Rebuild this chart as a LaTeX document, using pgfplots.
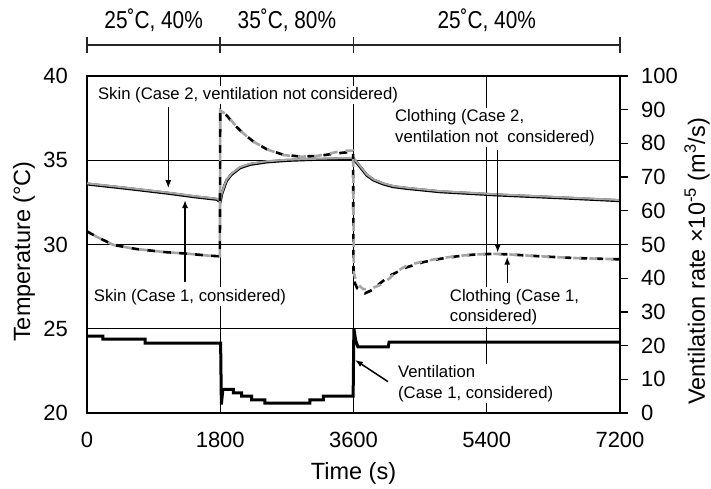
\documentclass[border=0pt]{standalone}
\usepackage{pgfplots}
\pgfplotsset{compat=1.18}
\usepackage{graphicx}
\usepackage{fontspec}
\setmainfont{Liberation Sans}
\usetikzlibrary{arrows.meta}
\definecolor{lgray}{RGB}{165,165,165}
\newcommand{\tickfont}{\fontsize{22bp}{26bp}\selectfont}
\newcommand{\labfont}{\fontsize{23.5bp}{28bp}\selectfont}
\newcommand{\annfont}{\fontsize{16.7bp}{20.5bp}\selectfont}
\begin{document}
\begin{tikzpicture}
\begin{axis}[name=main, scale only axis, width=533bp, height=337bp,
  xmin=0, xmax=7200, ymin=20, ymax=40, clip=false,
  xtick={0,1800,3600,5400,7200}, ytick={20,25,30,35,40},
  grid=major, grid style={black, line width=0.7bp},
  major tick length=0pt,
  axis line style={black, line width=1.3bp},
  tick label style={font=\tickfont},
  /pgf/number format/assume math mode=true,
  /pgf/number format/1000 sep={},
  xticklabel style={anchor=north, inner sep=0pt, yshift=-19bp},
  yticklabel style={anchor=east, inner sep=0pt, xshift=-19bp},
  xlabel={Time (s)}, ylabel={Temperature (°C)},
  every axis x label/.style={at={(axis description cs:0.5,-0.178)}, anchor=center, font=\labfont},
  every axis y label/.style={at={(axis description cs:-0.118,0.479)}, anchor=center, rotate=90, font=\labfont},
]
% Skin, Case 1 (considered)
\addplot[black, line width=3bp] coordinates {
(0,33.59) (536,33.33) (1098,33.04) (1436,32.84) (1752,32.68) (1800,32.55)
(1820,33.0) (1860,33.5) (1887,33.8) (1950,34.15) (2067,34.55) (2200,34.75)
(2427,34.9) (2700,34.99) (3000,35.04) (3300,35.07) (3598,35.1)
(3688,34.62) (3778,34.12) (3868,33.83) (4003,33.59) (4138,33.43) (4318,33.33)
(4768,33.13) (5534,32.94) (6345,32.78) (7200,32.6)};
% Skin, Case 2 (not considered)
\addplot[lgray, line width=2bp] coordinates {
(0,33.63) (536,33.37) (1098,33.08) (1436,32.88) (1752,32.72) (1800,32.6)
(1820,33.05) (1860,33.55) (1887,33.84) (1950,34.19) (2067,34.59) (2200,34.79)
(2427,34.94) (2700,35.03) (3000,35.08) (3300,35.11) (3598,35.14)
(3688,34.66) (3778,34.16) (3868,33.87) (4003,33.63) (4138,33.47) (4318,33.37)
(4768,33.17) (5534,32.98) (6345,32.82) (7200,32.64)};
% Clothing, Case 1 (considered)
\addplot[black, line width=2.6bp, dash pattern=on 8bp off 8bp] coordinates {
(0,30.78) (130,30.46) (360,29.97) (670,29.73) (1050,29.55) (1370,29.45)
(1640,29.34) (1795,29.3) (1800,37.9) (1890,37.65) (1980,37.15) (2110,36.6)
(2250,36.1) (2430,35.65) (2650,35.33) (2880,35.22) (3100,35.25) (3330,35.38)
(3460,35.45) (3595,35.5) (3600,27.9) (3650,27.4) (3755,27.1) (3850,27.3)
(3960,27.7) (4090,28.15) (4320,28.65) (4540,28.95) (4770,29.15) (5000,29.3)
(5220,29.4) (5450,29.44) (5670,29.42) (6120,29.3) (6570,29.2) (7200,29.12)};
% Clothing, Case 2 (not considered)
\addplot[lgray, line width=2.6bp, dash pattern=on 8bp off 8bp, dash phase=8bp] coordinates {
(0,30.78) (130,30.46) (360,29.97) (670,29.73) (1050,29.55) (1370,29.45)
(1640,29.34) (1795,29.3) (1800,37.95) (1890,37.69) (1980,37.19) (2110,36.6)
(2250,36.1) (2430,35.65) (2650,35.31) (2880,35.21) (3100,35.25) (3330,35.45)
(3460,35.57) (3595,35.57) (3605,28.3) (3645,27.7) (3730,27.35) (3820,27.35)
(3960,27.6) (4090,28.0) (4180,28.4) (4320,28.75) (4540,29.0) (4770,29.18)
(5000,29.32) (5220,29.4) (5450,29.45) (5670,29.42) (6120,29.3) (6570,29.2) (7200,29.12)};
% annotations
\node[fill=white, inner sep=1.5bp, font=\annfont] at (axis cs:2175,38.87) {Skin (Case 2, ventilation not considered)};
\draw[line width=1.5bp, -{Latex[length=8bp,width=6bp]}] (axis cs:1098,38.18) -- (axis cs:1098,33.34);
\node[fill=white, inner sep=1.5bp, font=\annfont] at (axis cs:1391,26.9) {Skin (Case 1, considered)};
\draw[line width=1.5bp, -{Latex[length=8bp,width=6bp]}] (axis cs:1324,27.77) -- (axis cs:1324,32.64);
\node[fill=white, inner sep=1.5bp, font=\annfont, align=left, anchor=west] at (axis cs:4140,36.94) {Clothing (Case 2,\\ventilation not\ \ considered)};
\draw[line width=1.5bp, -{Latex[length=8bp,width=6bp]}] (axis cs:5548,35.61) -- (axis cs:5548,29.51);
\node[fill=white, inner sep=1.5bp, font=\annfont, align=left, anchor=west] at (axis cs:4880,26.29) {Clothing (Case 1,\\considered)};
\draw[line width=1.5bp, -{Latex[length=8bp,width=6bp]}] (axis cs:5677,27.72) -- (axis cs:5677,29.28);
\node[fill=white, inner sep=1.5bp, font=\annfont, align=left, anchor=west] at (axis cs:4180,21.75) {Ventilation\\(Case 1, considered)};
\draw[line width=1.5bp, -{Latex[length=8bp,width=6bp]}] (axis cs:4066,21.86) -- (axis cs:3620,23.15);
% top condition bracket
\draw[line width=1.8bp, black!85] (axis cs:0,41.84) -- (axis cs:7200,41.84);
\draw[line width=1.8bp, black!85] (axis cs:0,41.365) -- (axis cs:0,42.31);
\draw[line width=1.8bp, black!85] (axis cs:1800,41.365) -- (axis cs:1800,42.31);
\draw[line width=1.8bp, black!85] (axis cs:3600,41.365) -- (axis cs:3600,42.31);
\draw[line width=1.8bp, black!85] (axis cs:7200,41.365) -- (axis cs:7200,42.31);
\node[font=\fontsize{24.5bp}{28bp}\selectfont] at (axis cs:900,43.32) {\scalebox{0.85}[1]{25˚C, 40\%}};
\node[font=\fontsize{24.5bp}{28bp}\selectfont] at (axis cs:2700,43.32) {\scalebox{0.85}[1]{35˚C, 80\%}};
\node[font=\fontsize{24.5bp}{28bp}\selectfont] at (axis cs:5400,43.32) {\scalebox{0.85}[1]{25˚C, 40\%}};
\end{axis}
\begin{axis}[scale only axis, width=533bp, height=337bp,
  xmin=0, xmax=7200, ymin=0, ymax=100, clip=false,
  axis x line=none, axis y line*=right,
  ytick={0,10,...,100}, tick align=outside, major tick length=8bp,
  tick style={black, line width=1.3bp},
  axis line style={black, line width=1.6bp},
  tick label style={font=\tickfont},
  /pgf/number format/assume math mode=true,
  yticklabel style={anchor=west, inner sep=0pt, xshift=13bp},
  ylabel={Ventilation rate ×10\textsuperscript{-5} (m\textsuperscript{3}/s)},
  every axis y label/.style={at={(axis description cs:1.1445,0.45)}, anchor=center, rotate=90, font=\labfont},
]
\addplot[black, line width=3bp] coordinates {
(0,22.8) (216,22.8) (216,21.9) (784,21.9) (784,20.7) (1805,20.7) (1815,2.5)
(1835,7.0) (1976,7.0) (1976,6.0) (2089,6.0) (2089,5.0) (2224,5.0) (2224,3.9)
(2404,3.9) (2404,2.9) (3012,2.9) (3012,3.9) (3192,3.9) (3192,5.0) (3595,5.0)
(3605,25.1) (3630,21.5) (3660,19.6) (4070,19.6) (4080,21.0) (7200,21.0)};
\end{axis}
\pgfresetboundingbox
\path[use as bounding box] ([shift={(-87bp,-75bp)}]main.south west) rectangle ([shift={(91bp,76bp)}]main.north east);
\end{tikzpicture}
\end{document}
